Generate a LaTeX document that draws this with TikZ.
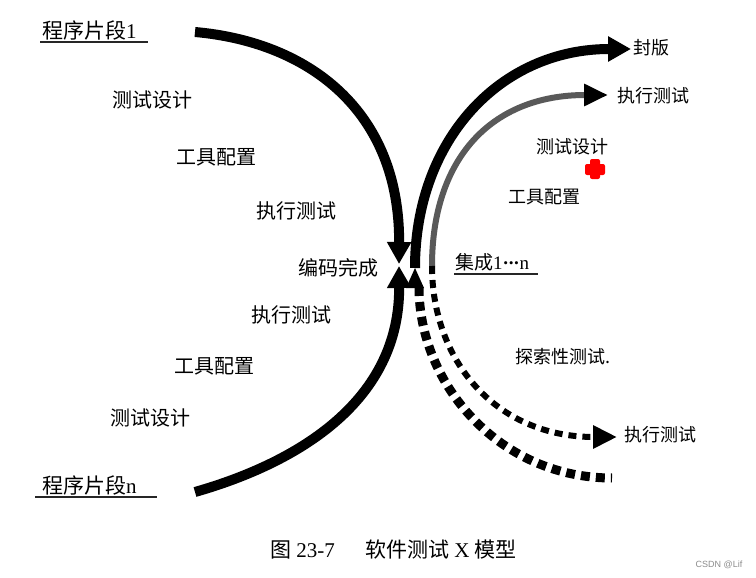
\documentclass[tikz,border=0pt]{standalone}
\usepackage{fontspec}
\setmainfont{Liberation Serif}
\newfontfamily\cjk{Noto Sans CJK SC}
\newfontfamily\wmfont{Liberation Sans}
\usetikzlibrary{arrows.meta}
\begin{document}
\begin{tikzpicture}[x=1pt,y=-1pt,
  lbl/.style={inner sep=0pt, font=\fontsize{20}{20}\selectfont\cjk},
  rlbl/.style={inner sep=0pt, font=\fontsize{18}{18}\selectfont\cjk},
  ttl/.style={inner sep=0pt, anchor=west, font=\fontsize{21}{21}\selectfont},
  bigarc/.style={line width=10pt, black},
  uline/.style={line width=1.3pt, black!85},
]
\useasboundingbox[fill=white] (0,0) rectangle (756,578);

% ---- titles with underline
\node[ttl] (p1) at (42,30) {{\cjk 程序片段}1};
\node[ttl] (pn) at (42,485) {{\cjk 程序片段}n};
\draw[uline] (40,42) -- (148,42);
\draw[uline] (35,497) -- (157,497);

% ---- left labels
\node[lbl] (l1) at (152,100) {测试设计};
\node[lbl] (l2) at (216,157) {工具配置};
\node[lbl] (l3) at (296,211) {执行测试};
\node[lbl] (l4) at (338,268) {编码完成};
\node[lbl] (l5) at (291,315) {执行测试};
\node[lbl] (l6) at (214,366) {工具配置};
\node[lbl] (l7) at (150,418) {测试设计};

% ---- right labels
\node[rlbl] (fb) at (651,48) {封版};
\node[rlbl] (r1) at (653,96) {执行测试};
\node[rlbl] (r2) at (572,147) {测试设计};
\node[rlbl] (r3) at (544,197) {工具配置};
\node[inner sep=0pt, anchor=west, font=\fontsize{19}{19}\selectfont] (jc) at (455,262) {{\cjk 集成}1\textbf{·\kern-1pt·\kern-1pt·}n};
\draw[uline] (454,274) -- (538,274);
\node[rlbl] (r4) at (563,357) {探索性测试.};
\node[rlbl] (r5) at (660,435) {执行测试};

% ---- red cross
\fill[red, rounded corners=2pt] (585,164) rectangle (605,175);
\fill[red, rounded corners=2pt] (590,159) rectangle (600,179);

% ---- coordinates
\coordinate (a1) at (195,32);
\coordinate (m1) at (399,264);
\coordinate (an) at (195,492);
\coordinate (mn) at (399,266);
\coordinate (b1) at (415,268);
\coordinate (e1) at (631,49);
\coordinate (b2) at (432,266);
\coordinate (e2) at (608,95);
\coordinate (e3) at (617,437);
\coordinate (b4) at (419,287);
\coordinate (e4) at (612,478);

% ---- left arcs
\draw[bigarc, -{Triangle[length=22pt,width=23pt]}] (a1) .. controls (308,42) and (400,110) .. (m1);
\draw[bigarc, -{Triangle[length=22pt,width=23pt]}] (an) .. controls (300,462) and (400,400) .. (mn);
\fill (406,288) -- (b1) -- (424,288) -- cycle;

% ---- right arcs
\draw[bigarc, -{Triangle[length=23pt,width=24pt]}] (b1) .. controls (415,140) and (500,49) .. (e1);
\draw[line width=6pt, black!65, -{Triangle[length=24pt,width=21pt,color=black]}] (b2) .. controls (432,160) and (490,95) .. (e2);
\draw[line width=6pt, dash pattern=on 8pt off 6pt, -{Triangle[length=24pt,width=22pt]}] (b2) .. controls (432,360) and (495,437) .. (e3);
\draw[line width=9pt, dash pattern=on 9pt off 6pt] (b4) .. controls (419,385) and (500,478) .. (e4);

% ---- caption
\node[ttl] (cap1) at (270,550) {{\cjk 图} 23-7};
\node[ttl] (cap2) at (365,550) {{\cjk 软件测试} X {\cjk 模型}};

% ---- watermark
\node[inner sep=0pt, font=\fontsize{9}{9}\selectfont\wmfont, text=black!45] (wm) at (719,565) {CSDN @Lif};
\end{tikzpicture}
\end{document}
